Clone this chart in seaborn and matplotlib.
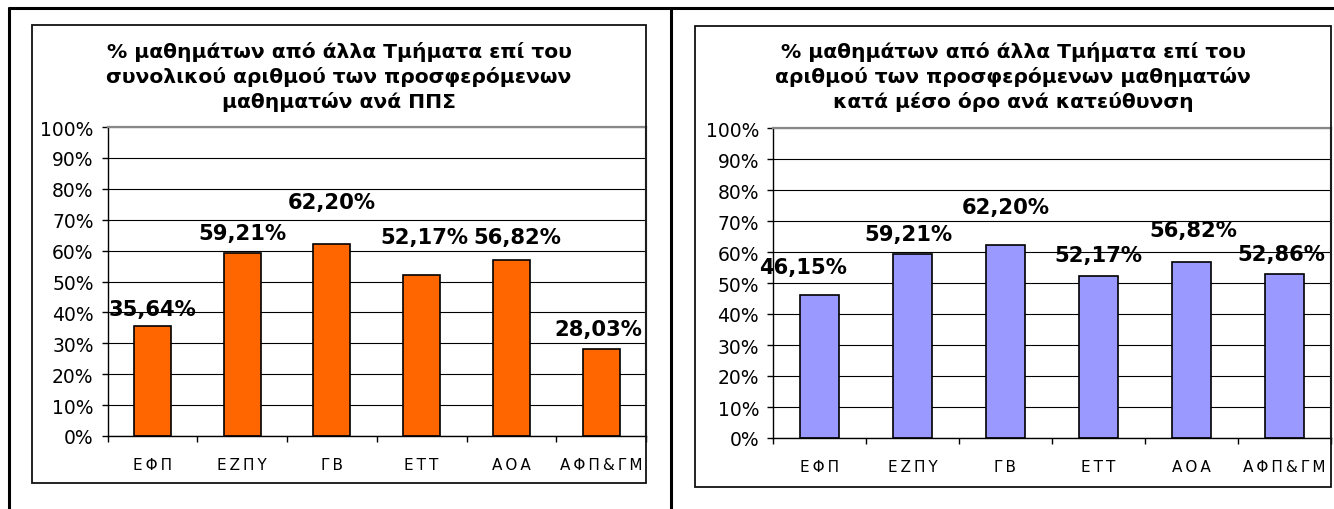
import numpy as np
import matplotlib
matplotlib.use('Agg')
import matplotlib.pyplot as plt
import seaborn as sns
from matplotlib.patches import Rectangle
from matplotlib.lines import Line2D

# data
categories = ['ΕΦΠ', 'ΕΖΠΥ', 'ΓΒ', 'ΕΤΤ', 'ΑΟΑ', 'ΑΦΠ&ΓΜ']
left_values = [35.64, 59.21, 62.20, 52.17, 56.82, 28.03]
right_values = [46.15, 59.21, 62.20, 52.17, 56.82, 52.86]
left_title = ('% μαθημάτων από άλλα Τμήματα επί του\n'
              'συνολικού αριθμού των προσφερόμενων\n'
              'μαθηματών ανά ΠΠΣ')
right_title = ('% μαθημάτων από άλλα Τμήματα επί του\n'
               'αριθμού των προσφερόμενων μαθηματών\n'
               'κατά μέσο όρο ανά κατεύθυνση')
y_ticks = list(range(0, 101, 10))

# label offsets in pixels (dx, dy above bar top)
left_offsets = [(0, 17), (0, 20), (0, 42), (3, 38), (6, 23), (-3, 20)]
right_offsets = [(-16, 28), (-4, 20), (0, 38), (0, 21), (2, 32), (-3, 20)]

W, H = 1334, 510

sns.set_style('white')
plt.rcParams['font.family'] = ['DejaVu Sans']
plt.rcParams['text.color'] = 'black'

fig = plt.figure(figsize=(W / 100, H / 100), dpi=100)


def fx(x):
    return x / W


def fy(y):
    return 1 - y / H


def spaced(s):
    return '\u2009'.join(s)


def draw_chart(values, color, title, offsets, frame, axbox, title_x):
    # frame (inner chart box)
    x0, y0, x1, y1 = frame
    fig.patches.append(Rectangle((fx(x0), fy(y1)), fx(x1 - x0), (y1 - y0) / H,
                                 transform=fig.transFigure, fill=False,
                                 edgecolor='#111111', linewidth=1.3, zorder=0))
    ax0, ay0, ax1, ay1 = axbox
    ax = fig.add_axes([fx(ax0), fy(ay1), fx(ax1 - ax0), (ay1 - ay0) / H])
    sns.barplot(x=categories, y=values, ax=ax, color=color, saturation=1,
                edgecolor='black', linewidth=1.2, width=0.41)
    ax.set_xlim(-0.5, len(categories) - 0.5)
    ax.set_ylim(0, 100)
    ax.set_yticks(y_ticks)
    ax.set_yticklabels([f'{t}%' for t in y_ticks], fontsize=13.5)
    ax.set_xticks(range(len(categories)))
    ax.set_xticklabels([spaced(c) for c in categories], fontsize=11)
    ax.set_xticks(np.arange(-0.5, len(categories)), minor=True)
    ax.tick_params(axis='x', which='major', length=0, pad=15, labelcolor='black')
    ax.tick_params(axis='x', which='minor', length=4, width=1, color='black',
                   direction='out', bottom=True)
    ax.tick_params(axis='y', length=4, width=1, color='black', direction='out',
                   left=True, pad=6, labelcolor='black')
    ax.set_xlabel('')
    ax.set_ylabel('')
    ax.yaxis.grid(True, color='black', linewidth=0.8)
    ax.set_axisbelow(True)
    for side in ['left', 'bottom']:
        ax.spines[side].set_color('black')
        ax.spines[side].set_linewidth(1)
    for side in ['top', 'right']:
        ax.spines[side].set_color('#888888')
        ax.spines[side].set_linewidth(1.6)

    for i, v in enumerate(values):
        dx, dy = offsets[i]
        ax.annotate(f'{v:.2f}'.replace('.', ',') + '%', xy=(i, v),
                    xytext=(dx, dy), textcoords='offset pixels',
                    ha='center', va='center', fontsize=15.2,
                    fontweight='bold', color='black')

    fig.text(fx(title_x), fy(42), title, ha='center', va='top',
             multialignment='center', fontsize=14.6, fontweight='bold',
             linespacing=1.3, color='black')
    return ax


draw_chart(left_values, '#FF6600', left_title, left_offsets,
           (32, 26, 646, 484), (107.5, 128, 646, 437), 339)
draw_chart(right_values, '#9999FF', right_title, right_offsets,
           (695, 27, 1331, 488), (773, 129, 1331, 439), 1013)

# outer page borders
for line in [((9, W), (9, 9)), ((9, 9), (9, H)), ((671, 671), (9, H))]:
    xs, ys = line
    fig.lines.append(Line2D([fx(x) for x in xs], [fy(y) for y in ys],
                            transform=fig.transFigure, color='black',
                            linewidth=2.2))

plt.savefig('out.png', dpi=100)
plt.close()
